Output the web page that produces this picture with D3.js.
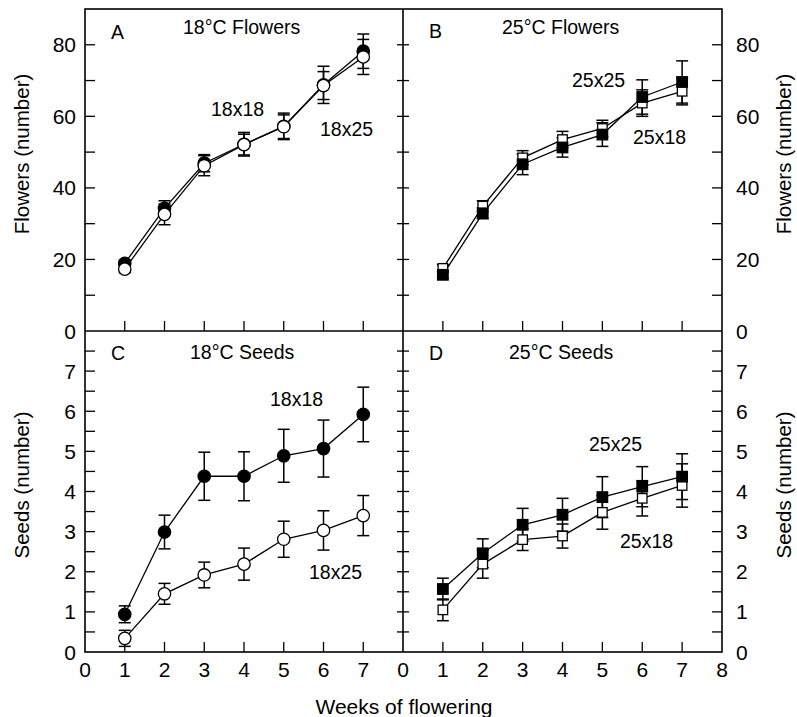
<!DOCTYPE html>
<html><head><meta charset="utf-8">
<script src="https://cdn.jsdelivr.net/npm/d3@7"></script>
<style>
html,body{margin:0;padding:0;background:#fff;}
svg text{font-family:"Liberation Sans",Arial,Helvetica,sans-serif;fill:#000;}
</style></head>
<body><svg id="chart" width="797" height="717"></svg>
<script>
// ---- data ----
const weeks = [1,2,3,4,5,6,7];
const xTicks = [0,1,2,3,4,5,6,7,8];
const flowerTicks = [0,20,40,60,80];
const seedTicks = [0,1,2,3,4,5,6,7];

// Panel A: 18C flowers
const flowers18x18 = [18.9,34.3,46.9,52.2,57.2,68.8,78.2];
const flowers18x18Err = [1.0,2.1,2.4,3.3,3.7,5.2,4.8];
const flowers18x25 = [17.3,32.6,46.2,52.1,57.1,68.6,76.6];
const flowers18x25Err = [1.0,2.9,2.8,2.9,3.3,3.9,4.9];
// Panel B: 25C flowers
const flowers25x25 = [15.7,32.9,46.6,51.3,54.9,65.4,69.6];
const flowers25x25Err = [1.0,1.5,2.9,2.7,3.3,4.8,5.9];
const flowers25x18 = [17.5,34.9,48.4,53.5,56.6,63.7,67.0];
const flowers25x18Err = [1.0,1.5,2.0,2.3,2.3,3.7,3.8];
// Panel C: 18C seeds
const seeds18x18 = [0.94,2.99,4.38,4.38,4.89,5.07,5.92];
const seeds18x18Err = [0.21,0.42,0.60,0.61,0.66,0.71,0.68];
const seeds18x25 = [0.34,1.45,1.92,2.19,2.81,3.03,3.40];
const seeds18x25Err = [0.20,0.26,0.32,0.40,0.45,0.49,0.50];
// Panel D: 25C seeds
const seeds25x25 = [1.57,2.46,3.17,3.42,3.86,4.12,4.37];
const seeds25x25Err = [0.27,0.36,0.41,0.41,0.51,0.50,0.57];
const seeds25x18 = [1.05,2.19,2.80,2.89,3.48,3.83,4.15];
const seeds25x18Err = [0.27,0.35,0.27,0.30,0.42,0.44,0.54];

// ---- layout ----
const svg = d3.select("#chart");
const L = 85, M = 403, R = 722, T = 9, H = 331, B = 652;
const FS = 21;

const xLeft = d3.scaleLinear().domain([0,8]).range([L,M]);
const xRight = d3.scaleLinear().domain([0,8]).range([M,R]);
const yFlow = d3.scaleLinear().domain([0,90]).range([H,T]);
const ySeed = d3.scaleLinear().domain([0,8]).range([B,H]);

const g = svg.append("g");

function yTicks(scale, vals, x0, dir, len){
  vals.forEach(v=>{
    g.append("line").attr("x1",x0).attr("x2",x0+dir*len)
      .attr("y1",scale(v)).attr("y2",scale(v)).attr("stroke","#000").attr("stroke-width",1.3);
  });
}
function xTickMarks(scale, vals, y0){
  vals.forEach(v=>{
    g.append("line").attr("x1",scale(v)).attr("x2",scale(v))
      .attr("y1",y0).attr("y2",y0-10).attr("stroke","#000").attr("stroke-width",1.3);
  });
}
const flowMinor = d3.range(10,81,10);
const seedMinor = d3.range(0.5,7.51,0.5);

yTicks(yFlow, flowMinor, L, 1, 10);
yTicks(yFlow, flowMinor, M-6, 1, 12);
yTicks(yFlow, flowMinor, R, -1, 10);
yTicks(ySeed, seedMinor, L, 1, 10);
yTicks(ySeed, seedMinor, M-6, 1, 12);
yTicks(ySeed, seedMinor, R, -1, 10);
xTickMarks(xLeft, weeks, H);
xTickMarks(xRight, weeks, H);
xTickMarks(xLeft, weeks, B);
xTickMarks(xRight, weeks, B);

// frame
g.append("rect").attr("x",L).attr("y",T).attr("width",R-L).attr("height",B-T)
  .attr("fill","none").attr("stroke","#000").attr("stroke-width",1.6);
g.append("line").attr("x1",M).attr("x2",M).attr("y1",T).attr("y2",B).attr("stroke","#000").attr("stroke-width",1.6);
g.append("line").attr("x1",L).attr("x2",R).attr("y1",H).attr("y2",H).attr("stroke","#000").attr("stroke-width",1.6);

// tick labels
flowerTicks.forEach(v=>{
  g.append("text").attr("x",L-9).attr("y",yFlow(v)).attr("dy","0.36em").attr("text-anchor","end").attr("font-size",FS).text(v);
  g.append("text").attr("x",R+14).attr("y",yFlow(v)).attr("dy","0.36em").attr("text-anchor","start").attr("font-size",FS).text(v);
});
seedTicks.forEach(v=>{
  g.append("text").attr("x",L-9).attr("y",ySeed(v)).attr("dy","0.36em").attr("text-anchor","end").attr("font-size",FS).text(v);
  g.append("text").attr("x",R+14).attr("y",ySeed(v)).attr("dy","0.36em").attr("text-anchor","start").attr("font-size",FS).text(v);
});
xTicks.slice(0,8).forEach(v=>{
  g.append("text").attr("x",xLeft(v)).attr("y",677).attr("text-anchor","middle").attr("font-size",FS).text(v);
});
xTicks.forEach(v=>{
  g.append("text").attr("x",xRight(v)).attr("y",677).attr("text-anchor","middle").attr("font-size",FS).text(v);
});

// axis titles
function vTitle(x,y,txt){
  g.append("text").attr("transform",`translate(${x},${y}) rotate(-90)`).attr("text-anchor","middle")
   .attr("font-size",20.5).text(txt);
}
vTitle(28.5,154,"Flowers (number)");
vTitle(28.5,485,"Seeds (number)");
vTitle(791,154,"Flowers (number)");
vTitle(791,485,"Seeds (number)");
g.append("text").attr("x",404).attr("y",714).attr("text-anchor","middle").attr("font-size",21).text("Weeks of flowering");

// panel labels
function txt(x,y,t,anchor){
  g.append("text").attr("x",x).attr("y",y).attr("text-anchor",anchor||"start").attr("font-size",19.5).text(t);
}
txt(111,39,"A"); txt(183,34,"18°C Flowers");
txt(429,38,"B"); txt(502,34,"25°C Flowers");
txt(111,360,"C"); txt(190,359,"18°C Seeds");
txt(429,360,"D"); txt(509,359,"25°C Seeds");
txt(211,116,"18x18"); txt(320,136,"18x25");
txt(572,87,"25x25"); txt(633,144,"25x18");
txt(270,406,"18x18"); txt(309,579,"18x25");
txt(589,451,"25x25"); txt(620,548,"25x18");

// series drawing
function drawSeries(xs, ys, vals, errs){
  const line = d3.line().x((d,i)=>xs(weeks[i])).y(d=>ys(d));
  g.append("path").attr("d",line(vals)).attr("fill","none").attr("stroke","#000").attr("stroke-width",1.3);
  vals.forEach((v,i)=>{
    const cx = xs(weeks[i]);
    const y1 = ys(v+errs[i]), y2 = ys(v-errs[i]);
    g.append("line").attr("x1",cx).attr("x2",cx).attr("y1",y1).attr("y2",y2).attr("stroke","#000").attr("stroke-width",1.5);
    [y1,y2].forEach(yy=>g.append("line").attr("x1",cx-6).attr("x2",cx+6).attr("y1",yy).attr("y2",yy).attr("stroke","#000").attr("stroke-width",1.5));
  });
}
function drawMarkers(xs, ys, vals, shape, filled){
  vals.forEach((v,i)=>{
    const cx = xs(weeks[i]), cy = ys(v);
    if(shape==="circle"){
      g.append("circle").attr("cx",cx).attr("cy",cy).attr("r",6.2)
        .attr("fill",filled?"#000":"#fff").attr("stroke","#000").attr("stroke-width",1.3);
    } else {
      const s = filled?10.5:9.5;
      g.append("rect").attr("x",cx-s/2).attr("y",cy-s/2).attr("width",s).attr("height",s)
        .attr("fill",filled?"#000":"#fff").attr("stroke","#000").attr("stroke-width",1.3);
    }
  });
}

// Panel A
drawSeries(xLeft,yFlow,flowers18x18,flowers18x18Err);
drawSeries(xLeft,yFlow,flowers18x25,flowers18x25Err);
drawMarkers(xLeft,yFlow,flowers18x18,"circle",true);
drawMarkers(xLeft,yFlow,flowers18x25,"circle",false);
// Panel B
drawSeries(xRight,yFlow,flowers25x18,flowers25x18Err);
drawSeries(xRight,yFlow,flowers25x25,flowers25x25Err);
drawMarkers(xRight,yFlow,flowers25x18,"square",false);
drawMarkers(xRight,yFlow,flowers25x25,"square",true);
// Panel C
drawSeries(xLeft,ySeed,seeds18x18,seeds18x18Err);
drawSeries(xLeft,ySeed,seeds18x25,seeds18x25Err);
drawMarkers(xLeft,ySeed,seeds18x18,"circle",true);
drawMarkers(xLeft,ySeed,seeds18x25,"circle",false);
// Panel D
drawSeries(xRight,ySeed,seeds25x18,seeds25x18Err);
drawSeries(xRight,ySeed,seeds25x25,seeds25x25Err);
drawMarkers(xRight,ySeed,seeds25x18,"square",false);
drawMarkers(xRight,ySeed,seeds25x25,"square",true);
</script></body></html>
